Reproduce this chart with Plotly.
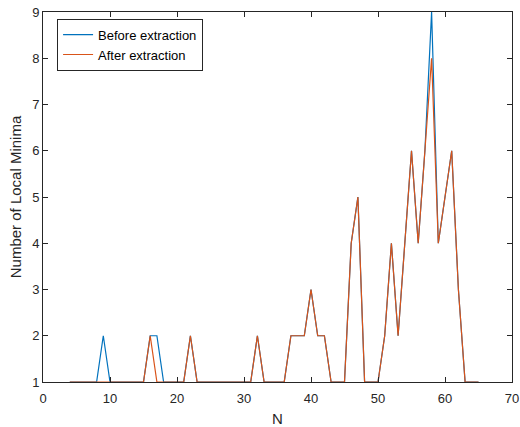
import plotly.graph_objects as go

N = list(range(4, 66))
before_vals = [1, 1, 1, 1, 1, 2, 1, 1, 1, 1, 1, 1, 2, 2, 1, 1, 1, 1, 2, 1, 1, 1, 1, 1, 1, 1, 1, 1, 2, 1,
               1, 1, 1, 2, 2, 2, 3, 2, 2, 1, 1, 1, 4, 5, 1, 1, 1, 2, 4, 2, 4, 6, 4, 6, 9, 4, 5, 6, 3, 1, 1, 1]
after_vals = [1, 1, 1, 1, 1, 1, 1, 1, 1, 1, 1, 1, 2, 1, 1, 1, 1, 1, 2, 1, 1, 1, 1, 1, 1, 1, 1, 1, 2, 1,
              1, 1, 1, 2, 2, 2, 3, 2, 2, 1, 1, 1, 4, 5, 1, 1, 1, 2, 4, 2, 4, 6, 4, 6, 8, 4, 5, 6, 3, 1, 1, 1]
series_names = ["Before extraction", "After extraction"]
x_ticks = [0, 10, 20, 30, 40, 50, 60, 70]
y_ticks = [1, 2, 3, 4, 5, 6, 7, 8, 9]

fig = go.Figure()
fig.add_trace(go.Scatter(x=N, y=before_vals, mode="lines", name=series_names[0],
                         line=dict(color="#0072BD", width=1.2)))
fig.add_trace(go.Scatter(x=N, y=after_vals, mode="lines", name=series_names[1],
                         line=dict(color="#D95319", width=1.2)))

axis_common = dict(showgrid=False, zeroline=False, showline=True, linecolor="#262626",
                   linewidth=1, mirror="ticks", ticks="inside", ticklen=5, tickcolor="#262626",
                   tickfont=dict(size=13, color="#262626"), automargin=False)

fig.update_layout(
    width=520, height=427,
    margin=dict(l=43, r=8, t=12, b=45),
    paper_bgcolor="white", plot_bgcolor="white",
    font=dict(family="Liberation Sans, Arial, sans-serif", color="#262626"),
    xaxis=dict(range=[0, 70], tickvals=x_ticks, ticklabelstandoff=4,
               title=dict(text="N", font=dict(size=15), standoff=12),
               **axis_common),
    yaxis=dict(range=[1, 9], tickvals=y_ticks,
               title=dict(text="Number of Local Minima", font=dict(size=15), standoff=6),
               **axis_common),
    legend=dict(x=0.03, y=0.982, xanchor="left", yanchor="top", bgcolor="white",
                bordercolor="#262626", borderwidth=1, font=dict(size=13, color="black"),
                tracegroupgap=0),
    showlegend=True,
)

fig.write_html("out.html", post_script="document.body.style.margin='0';",
               config={"displayModeBar": False})
